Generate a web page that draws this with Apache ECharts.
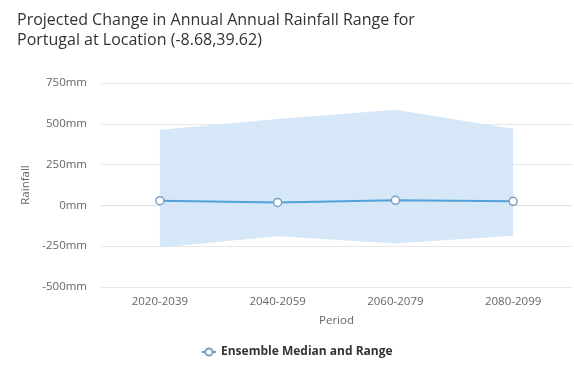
<!DOCTYPE html>
<html>
<head>
<meta charset="utf-8">
<script src="https://cdn.jsdelivr.net/npm/echarts@6/dist/echarts.min.js"></script>
<style>html,body{margin:0;padding:0;background:#fff}#c{width:574px;height:365px}</style>
</head>
<body>
<div id="c"></div>
<script>
var periods = ['2020-2039', '2040-2059', '2060-2079', '2080-2099'];
var median = [29, 18, 31, 25];
var lower = [-258, -189, -234, -186];
var upper = [463, 529, 586, 469];
var yTicks = [-500, -250, 0, 250, 500, 750];

var span = upper.map(function (u, i) { return u - lower[i]; });
var chart = echarts.init(document.getElementById('c'));
chart.setOption({
  animation: false,
  title: {
    text: 'Projected Change in Annual Annual Rainfall Range for\nPortugal at Location (-8.68,39.62)',
    left: 12, top: 5,
    textStyle: { fontFamily: 'Open Sans', fontSize: 16, fontWeight: 'normal', color: '#333333', lineHeight: 20 }
  },
  legend: {
    data: ['Ensemble Median and Range'],
    bottom: 2, left: 196,
    itemWidth: 14, itemHeight: 9, itemGap: 6,
    textStyle: { fontFamily: 'Open Sans', fontSize: 12, fontWeight: 'bold', color: '#333333' }
  },
  grid: { left: 101, right: 2, top: 83, bottom: 78, containLabel: false },
  xAxis: {
    type: 'category', data: periods, boundaryGap: true,
    name: 'Period', nameLocation: 'middle', nameGap: 28,
    nameTextStyle: { fontFamily: 'Open Sans', fontSize: 11.5, color: '#666666' },
    axisLine: { lineStyle: { color: '#e0e0e0' } },
    axisTick: { show: false },
    axisLabel: { fontFamily: 'Open Sans', fontSize: 11.5, color: '#666666', margin: 9 }
  },
  yAxis: {
    type: 'value', min: yTicks[0], max: yTicks[yTicks.length - 1], interval: 250,
    name: 'Rainfall', nameLocation: 'middle', nameGap: 68,
    nameTextStyle: { fontFamily: 'Open Sans', fontSize: 11.5, color: '#666666' },
    axisLine: { show: false }, axisTick: { show: false },
    splitLine: { lineStyle: { color: '#e6e6e6' } },
    axisLabel: { fontFamily: 'Open Sans', fontSize: 11.5, color: '#666666', margin: 14, formatter: '{value}mm' }
  },
  series: [
    { name: 'lowerBase', type: 'line', data: lower, stack: 'range', stackStrategy: 'all',
      lineStyle: { opacity: 0 }, symbol: 'none', silent: true },
    { name: 'rangeBand', type: 'line', data: span, stack: 'range', stackStrategy: 'all',
      lineStyle: { opacity: 0 }, symbol: 'none', silent: true,
      areaStyle: { color: '#d6e8f7', opacity: 1 } },
    { name: 'Ensemble Median and Range', type: 'line', data: median,
      symbol: 'circle', symbolSize: 8, color: '#52a2d8',
      lineStyle: { color: '#52a2d8', width: 2 },
      itemStyle: { color: '#ffffff', borderColor: '#7b9ec4', borderWidth: 1.5 },
      z: 5 }
  ]
});
</script>
</body>
</html>
